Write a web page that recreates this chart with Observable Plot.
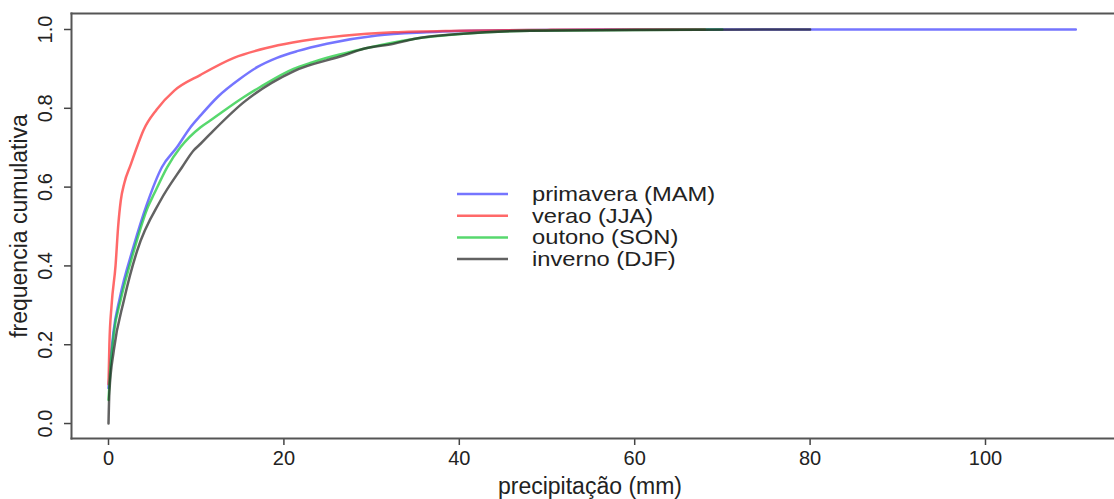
<!DOCTYPE html>
<html><head><meta charset="utf-8">
<script src="https://cdn.jsdelivr.net/npm/d3@7"></script>
<script src="https://cdn.jsdelivr.net/npm/@observablehq/plot@0.6"></script>
<style>
body{margin:0;background:#fff;}
#chart{position:relative;width:1114px;height:499px;}
</style>
</head><body><div id="chart"></div>
<script>
// Series (precipitation mm, cumulative frequency)
const seasons = ["primavera (MAM)", "verao (JJA)", "outono (SON)", "inverno (DJF)"];
const colors = ["#3a3aff", "#ff2a2a", "#10c830", "#202020"];

const primaveraX = [0,0.2,0.55,1.3,2.8,4.4,6.1,7.8,9.35,10.5,12.5,15,17,19.2,21.5,24.9,30.6,36.3,45,60,110.3];
const primaveraF = [0.09,0.15,0.23,0.32,0.445,0.558,0.651,0.701,0.752,0.782,0.83,0.875,0.905,0.928,0.945,0.964,0.985,0.993,0.998,1,1];

const veraoX = [0,0.1,0.35,0.8,1.1,1.4,1.8,2.5,3.3,4.0,5.5,7.5,10.5,14.3,18,21,26.8,32.5,40,50,60,68];
const veraoF = [0.1,0.2,0.3,0.4,0.5,0.566,0.61,0.655,0.705,0.745,0.797,0.845,0.885,0.928,0.953,0.967,0.984,0.993,0.997,0.999,1,1];

const outonoX = [0,0.23,0.6,1.37,2.9,4.5,5.2,6.7,8.2,10.5,11.6,15.4,17.3,21.1,23,29.1,34.8,40.5,48.1,60,70];
const outonoF = [0.06,0.143,0.228,0.312,0.439,0.55,0.583,0.651,0.701,0.752,0.769,0.828,0.854,0.9,0.915,0.951,0.976,0.989,0.997,0.999,1];

const invernoX = [0,0.1,0.6,1.75,3.27,5.93,8.4,9.7,10.5,11.6,15.4,21.1,26.8,29.1,32.5,34.8,40.3,48.1,60,80];
const invernoF = [0,0.08,0.185,0.312,0.439,0.566,0.651,0.693,0.71,0.735,0.815,0.894,0.934,0.951,0.964,0.976,0.989,0.997,0.999,1];

const xTicks = [0,20,40,60,80,100];
const yTicks = [0,0.2,0.4,0.6,0.8,1.0];

const seriesX = [primaveraX, veraoX, outonoX, invernoX];
const seriesF = [primaveraF, veraoF, outonoF, invernoF];
const rows = seasons.flatMap((s,i) => seriesX[i].map((x,j) => ({season:s, x, F: seriesF[i][j]})));

const plot = Plot.plot({
  width: 1114, height: 499,
  marginLeft: 71, marginRight: 0, marginTop: 13, marginBottom: 61,
  style: {fontFamily: "'Liberation Sans', Arial, sans-serif", fontSize: "20px", color: "#222", background: "#fff"},
  x: {domain: [-4.22, 114.71], label: null},
  y: {domain: [-0.038, 1.0406], label: null},
  color: {domain: seasons, range: colors},
  marks: [
    Plot.axisX({ticks: xTicks, tickSize: 7, tickPadding: 5, tickFormat: d => String(d), stroke: "#444", strokeWidth: 1.5, fontSize: 20, label: null}),
    Plot.axisY({ticks: yTicks, tickSize: 7, tickPadding: 13, tickRotate: -90, tickFormat: d3.format(".1f"), stroke: "#444", strokeWidth: 1.5, fontSize: 20, label: null}),
    Plot.line(rows, {x: "x", y: "F", z: "season", stroke: "season", strokeWidth: 2.5, strokeOpacity: 0.7, curve: "monotone-x"}),
    Plot.frame({anchor: "top", stroke: "#555", strokeWidth: 2}),
    Plot.frame({anchor: "bottom", stroke: "#555", strokeWidth: 2}),
    Plot.frame({anchor: "left", stroke: "#555", strokeWidth: 2})
  ]
});
document.getElementById("chart").appendChild(plot);

const svg = d3.select(plot);
svg.style("overflow","hidden");
const ff = "'Liberation Sans', Arial, sans-serif";
svg.append("text").attr("x", 590).attr("y", 494).attr("text-anchor","middle")
  .attr("font-family", ff).attr("font-size", 23).attr("fill","#222").text("precipitação (mm)");
svg.append("text").attr("transform","translate(27,226) rotate(-90)").attr("text-anchor","middle")
  .attr("font-family", ff).attr("font-size", 23).attr("fill","#222").text("frequencia cumulativa");

const lg = svg.append("g").attr("text-anchor","start");
seasons.forEach((s,i) => {
  const y = 194 + i*21.7;
  lg.append("line").attr("x1",457).attr("x2",508).attr("y1",y).attr("y2",y)
    .attr("stroke", colors[i]).attr("stroke-width",2.5).attr("stroke-opacity",0.7);
  lg.append("text").attr("transform", `translate(532,${y+7}) scale(1.13,1)`).attr("text-anchor","start")
    .attr("font-family",ff).attr("font-size",21).attr("fill","#222").text(s);
});
</script>
</body></html>
